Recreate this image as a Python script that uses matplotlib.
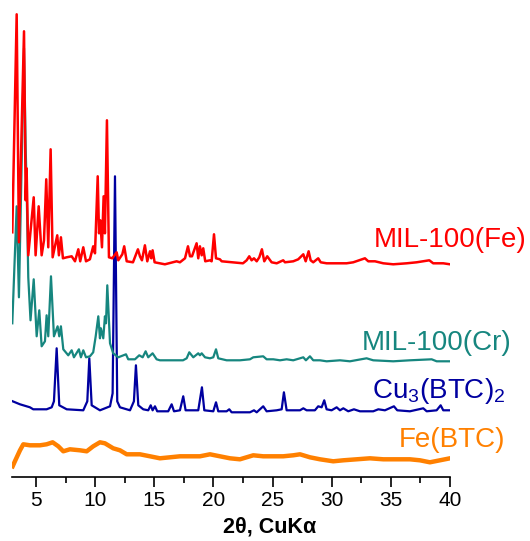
import matplotlib
matplotlib.use('Agg')
import matplotlib.pyplot as plt
from matplotlib.ticker import MultipleLocator

plt.rcParams['font.family'] = ['Liberation Sans', 'DejaVu Sans']
plt.rcParams['mathtext.default'] = 'regular'

# MIL-100(Fe), stacked intensity (a.u.)
fe_mil_x = [3.00, 3.37, 3.56, 3.99, 4.13, 4.21, 4.35, 4.81, 4.97, 5.23, 5.48, 5.68,
            5.87, 6.04, 6.24, 6.41, 6.80, 6.94, 7.11, 7.28, 7.60, 8.02, 8.30, 8.58,
            8.74, 9.00, 9.23, 9.56, 9.84, 9.99, 10.22, 10.33, 10.44, 10.58, 10.72,
            10.83, 11.00, 11.17, 11.45, 11.82, 11.96, 12.30, 12.46, 12.67, 13.20,
            13.62, 13.79, 13.96, 14.21, 14.41, 14.64, 14.75, 14.86, 15.03, 15.90,
            16.89, 17.17, 17.60, 17.85, 18.02, 18.19, 18.58, 18.72, 18.86, 19.01,
            19.14, 19.31, 19.71, 19.85, 20.05, 20.22, 20.55, 20.70, 22.50, 22.81,
            23.03, 23.23, 23.43, 23.66, 23.88, 24.10, 24.30, 24.55, 24.92, 25.35,
            25.90, 26.05, 26.75, 27.17, 27.60, 27.80, 28.05, 28.22, 28.44, 28.86,
            29.07, 29.57, 30.42, 31.26, 31.82, 32.81, 33.09, 33.66, 34.36, 35.20,
            36.34, 37.18, 38.25, 38.58, 39.43, 40.00]
fe_mil_y = [245, 463, 235, 446, 277, 309, 222, 280, 222, 271, 222, 237,
            298, 230, 328, 220, 242, 222, 240, 219, 220, 221, 216, 228,
            216, 230, 216, 218, 231, 224, 301, 244, 257, 230, 281,
            244, 357, 220, 219, 225, 217, 223, 231, 216, 215,
            228, 221, 217, 232, 216, 226, 219, 227, 215, 213,
            216, 215, 219, 231, 221, 221, 234, 219, 231, 222,
            229, 216, 217, 216, 243, 219, 218, 216, 214, 217,
            221, 217, 219, 216, 220, 228, 216, 221, 215, 214,
            217, 215, 216, 218, 223, 216, 226, 217, 215, 219,
            215, 214, 214, 214, 215, 219, 216, 216, 214, 213,
            214, 215, 217, 214, 214, 213]

# MIL-100(Cr)
cr_mil_x = [3.00, 3.37, 3.56, 3.99, 4.13, 4.21, 4.35, 4.54, 4.81, 5.06, 5.28, 5.48,
            5.76, 5.90, 6.04, 6.27, 6.52, 6.83, 6.97, 7.11, 7.31, 7.73, 8.02, 8.21,
            8.63, 8.80, 9.00, 9.23, 9.56, 9.84, 10.05, 10.27, 10.41, 10.49, 10.69,
            10.83, 10.92, 11.03, 11.26, 11.53, 11.96, 12.61, 12.80, 13.37, 13.73,
            14.02, 14.27, 14.49, 14.86, 15.20, 15.48, 17.43, 17.74, 17.96, 18.30,
            18.72, 18.86, 19.01, 19.29, 19.71, 19.99, 20.22, 20.41, 21.12, 22.24,
            23.09, 23.37, 24.21, 24.50, 25.06, 25.63, 26.19, 26.75, 27.60, 27.82,
            28.16, 28.44, 29.01, 29.57, 30.70, 31.54, 32.95, 33.51, 35.20, 36.61,
            38.45, 38.87, 40.00]
cr_mil_y = [154, 271, 180, 429, 330, 290, 200, 157, 198, 141, 167, 131,
            136, 162, 141, 201, 141, 151, 141, 151, 128, 122, 127, 120,
            128, 120, 127, 120, 121, 125, 141, 161, 139, 149, 139,
            161, 154, 192, 134, 124, 120, 123, 118, 118, 122,
            120, 126, 120, 124, 118, 117, 117, 119, 125, 120,
            124, 122, 124, 120, 119, 120, 128, 119, 117, 117,
            118, 120, 121, 118, 118, 117, 118, 117, 120, 117,
            121, 117, 117, 116, 117, 116, 119, 117, 116, 117,
            118, 116, 116]

# Cu3(BTC)2
cu_x = [3.03, 3.65, 4.49, 4.77, 5.90, 6.33, 6.52, 6.75, 6.97, 7.60, 9.00, 9.34,
        9.51, 9.71, 10.41, 11.26, 11.48, 11.68, 11.87, 12.10, 12.95, 13.28, 13.45,
        13.65, 14.07, 14.49, 14.70, 14.86, 15.06, 15.25, 16.18, 16.47, 16.67,
        17.17, 17.45, 17.65, 18.72, 19.03, 19.23, 19.99, 20.22, 20.41, 21.12,
        21.34, 21.54, 23.09, 23.43, 23.66, 24.21, 24.50, 25.35, 25.77, 25.96,
        26.19, 27.32, 27.60, 27.88, 28.58, 28.86, 29.15, 29.37, 29.57, 29.99,
        30.42, 30.70, 30.98, 31.40, 31.88, 32.39, 33.51, 33.94, 34.50, 35.26,
        35.54, 36.61, 37.74, 38.03, 38.87, 39.21, 39.43, 40.00]
cu_y = [76, 73, 70, 68, 68, 70, 76, 129, 72, 68, 67, 76,
        119, 72, 67, 71, 84, 301, 76, 70, 67, 76, 112,
        72, 68, 67, 72, 67, 71, 66, 66, 73, 66,
        67, 81, 67, 67, 90, 67, 66, 75, 66, 66,
        68, 65, 65, 67, 65, 71, 66, 67, 68, 85,
        67, 67, 69, 67, 67, 71, 70, 77, 68, 67,
        70, 67, 69, 66, 68, 66, 66, 68, 67, 71,
        67, 66, 69, 66, 67, 72, 67, 67]

# Fe(BTC)
febtc_x = [3.03, 3.22, 3.65, 3.93, 4.49, 5.34, 5.90, 6.41, 6.89, 7.31, 7.87, 8.72,
           9.29, 9.84, 10.41, 10.83, 11.53, 12.10, 12.67, 13.79, 14.64, 15.48, 16.33,
           17.17, 18.02, 18.86, 19.71, 20.55, 21.40, 22.24, 23.37, 24.21, 25.06,
           25.90, 26.75, 27.32, 28.16, 29.01, 30.13, 30.98, 32.11, 33.23, 34.36,
           35.49, 36.61, 37.46, 38.30, 39.15, 40.00]
febtc_y = [11, 16, 27, 33, 32, 32, 33, 35, 31, 26, 28, 27,
           26, 31, 35, 34, 29, 27, 23, 23, 21, 19, 20,
           21, 21, 21, 23, 21, 19, 18, 22, 21, 21,
           21, 22, 23, 20, 18, 16, 17, 18, 19, 18,
           18, 18, 17, 15, 17, 19]

names = ['MIL-100(Fe)', 'MIL-100(Cr)', 'Cu$_3$(BTC)$_2$', 'Fe(BTC)']
colors = ['#FF0000', '#16867F', '#0000A0', '#FF8000']

fig = plt.figure(figsize=(5.30, 5.41), dpi=100)
ax = fig.add_axes([12.3 / 530, 63.7 / 541, (450 - 12.3) / 530, 477.3 / 541])

ax.plot(febtc_x, febtc_y, color=colors[3], lw=3.2)
ax.plot(cu_x, cu_y, color=colors[2], lw=1.6)
ax.plot(cr_mil_x, cr_mil_y, color=colors[1], lw=1.6)
ax.plot(fe_mil_x, fe_mil_y, color=colors[0], lw=1.8)

ax.set_xlim(3, 40)
ax.set_ylim(0, 477.3)
ax.xaxis.set_major_locator(MultipleLocator(5))
ax.xaxis.set_minor_locator(MultipleLocator(2.5))
ax.tick_params(axis='x', which='major', direction='out', length=7, width=1.2,
               labelsize=15, pad=3)
ax.tick_params(axis='x', which='minor', direction='out', length=4, width=1.2)
ax.set_yticks([])
for s in ['left', 'right', 'top']:
    ax.spines[s].set_visible(False)
ax.spines['bottom'].set_linewidth(1.2)

fig.text(270 / 530, 1 - 527 / 541, '2θ, CuKα', fontsize=15.5, fontweight='bold',
         ha='center', va='center')

# sample labels
fig.text(527 / 530, 1 - 246.7 / 541, names[0], color=colors[0], fontsize=20,
         ha='right', va='baseline')
fig.text(511.7 / 530, 1 - 350 / 541, names[1], color=colors[1], fontsize=20,
         ha='right', va='baseline')
fig.text(505 / 530, 1 - 398 / 541, names[2], color=colors[2], fontsize=20,
         ha='right', va='baseline')
fig.text(505 / 530, 1 - 446.7 / 541, names[3], color=colors[3], fontsize=20,
         ha='right', va='baseline')

fig.savefig('out.png', dpi=100)
